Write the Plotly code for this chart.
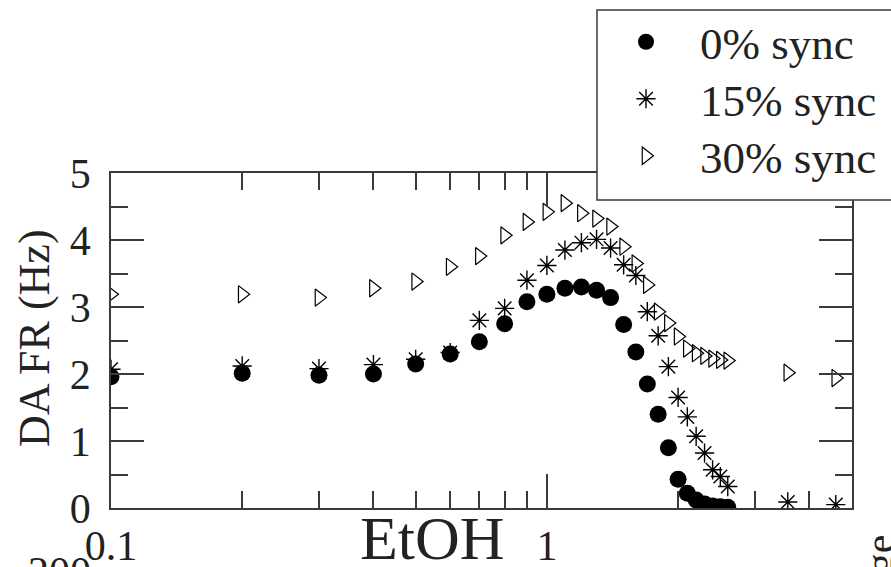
import plotly.graph_objects as go

# ---- data ----
etoh = [0.1, 0.2, 0.3, 0.4, 0.5, 0.6, 0.7, 0.8, 0.9, 1.0,
        1.1, 1.2, 1.3, 1.4, 1.5, 1.6, 1.7, 1.8, 1.9, 2.0,
        2.1, 2.2, 2.3, 2.4, 2.5, 2.6]
etoh_far = [3.57, 4.6]

sync0 = [1.96, 2.01, 1.98, 2.0, 2.15, 2.3, 2.48, 2.75, 3.08, 3.19,
         3.28, 3.3, 3.25, 3.14, 2.74, 2.33, 1.85, 1.4, 0.9, 0.43,
         0.22, 0.12, 0.06, 0.03, 0.02, 0.01]
sync15 = [2.07, 2.12, 2.08, 2.14, 2.22, 2.32, 2.8, 2.98, 3.4, 3.62,
          3.85, 3.96, 4.01, 3.88, 3.63, 3.47, 2.93, 2.57, 2.11, 1.65,
          1.36, 1.07, 0.82, 0.57, 0.47, 0.32]
sync15_far = [0.09, 0.05]
sync30 = [3.19, 3.19, 3.14, 3.28, 3.38, 3.6, 3.76, 4.07, 4.27, 4.42,
          4.55, 4.4, 4.32, 4.2, 3.9, 3.65, 3.33, 2.93, 2.76, 2.56,
          2.38, 2.31, 2.27, 2.23, 2.21, 2.2]
sync30_far = [2.02, 1.94]

series_names = ["0% sync", "15% sync", "30% sync"]
x_major = [0.1, 1]
x_major_text = ["0.1", "1"]
x_minor = [0.2, 0.3, 0.4, 0.5, 0.6, 0.7, 0.8, 0.9, 2, 3, 4]

FONT = "Liberation Serif, Times New Roman, serif"
INK = "#222222"
AX = "#3a3a3a"

W, H = 891, 567
L, R, T, B = 111, 39, 173, 59
pw, ph = W - L - R, H - T - B


def px(xp):
    return (xp - L) / pw


def py(yp):
    return (H - B - yp) / ph


fig = go.Figure()
fig.add_trace(go.Scatter(
    x=etoh, y=sync0, mode="markers", name=series_names[0], legend="legend",
    marker=dict(symbol="circle", size=17, color="black", line=dict(width=0))))
fig.add_trace(go.Scatter(
    x=etoh + etoh_far, y=sync15 + sync15_far, mode="markers",
    name=series_names[1], legend="legend2",
    marker=dict(symbol="asterisk-open", size=16, color="black",
                line=dict(width=1.4, color="black"))))
fig.add_trace(go.Scatter(
    x=etoh + etoh_far, y=sync30 + sync30_far, mode="markers",
    name=series_names[2], legend="legend3",
    marker=dict(symbol="triangle-right-open", size=15, color="black",
                line=dict(width=1.2, color="black"))))
# invisible trace that carries the mirrored (top / right) tick axes
fig.add_trace(go.Scatter(
    x=etoh, y=sync0, xaxis="x2", yaxis="y2", mode="markers",
    marker=dict(opacity=0), showlegend=False, hoverinfo="skip"))

tick_common = dict(ticks="inside", tickwidth=1.5, tickcolor=AX,
                   showgrid=False, zeroline=False, automargin=False)


def leg(row_y):
    return dict(x=px(592), y=py(row_y), xanchor="left", yanchor="middle",
                bgcolor="rgba(0,0,0,0)", borderwidth=0,
                font=dict(family=FONT, size=45, color=INK), itemwidth=98)


fig.update_layout(
    width=W, height=H,
    margin=dict(l=L, r=R, t=T, b=B, autoexpand=False),
    paper_bgcolor="white", plot_bgcolor="white",
    font=dict(family=FONT, color=INK, size=40),
    showlegend=True,
    legend=leg(42), legend2=leg(99), legend3=leg(156),
    xaxis=dict(
        type="log", range=[-1, 0.7],
        showline=True, linecolor=AX, linewidth=1.5, mirror=True,
        ticklen=34, tickmode="array", tickvals=x_major, ticktext=x_major_text,
        tickfont=dict(family=FONT, size=42, color=INK),
        minor=dict(ticks="inside", ticklen=17, tickwidth=1.5, tickcolor=AX,
                   tickmode="array", tickvals=x_minor, showgrid=False),
        **tick_common,
    ),
    xaxis2=dict(
        type="log", range=[-1, 0.7], overlaying="x", side="top", anchor="y",
        showline=False, showticklabels=False,
        ticklen=34, tickmode="array", tickvals=x_major,
        minor=dict(ticks="inside", ticklen=17, tickwidth=1.5, tickcolor=AX,
                   tickmode="array", tickvals=x_minor, showgrid=False),
        **tick_common,
    ),
    yaxis=dict(
        range=[0, 5],
        showline=True, linecolor=AX, linewidth=1.5, mirror=True,
        ticklen=33, tickmode="linear", tick0=0, dtick=1,
        tickfont=dict(family=FONT, size=42, color=INK),
        ticklabelstandoff=10,
        minor=dict(ticks="inside", ticklen=17, tickwidth=1.5, tickcolor=AX,
                   dtick=0.5, tick0=0, showgrid=False),
        **tick_common,
    ),
    yaxis2=dict(
        range=[0, 5], overlaying="y", side="right", anchor="x",
        showline=False, showticklabels=False,
        ticklen=33, tickmode="linear", tick0=0, dtick=1,
        minor=dict(ticks="inside", ticklen=17, tickwidth=1.5, tickcolor=AX,
                   dtick=0.5, tick0=0, showgrid=False),
        **tick_common,
    ),
    shapes=[
        dict(type="rect", xref="paper", yref="paper",
             x0=px(597), x1=px(905), y0=py(200), y1=py(10),
             line=dict(color=AX, width=1.5), fillcolor="white", layer="above"),
    ],
    annotations=[
        dict(text="EtOH", x=px(432), y=py(538), xref="paper", yref="paper",
             xanchor="center", yanchor="middle", showarrow=False,
             font=dict(family=FONT, size=62, color=INK)),
        dict(text="DA FR (Hz)", x=px(34), y=py(338), xref="paper", yref="paper",
             xanchor="center", yanchor="middle", showarrow=False, textangle=-90,
             font=dict(family=FONT, size=44, color=INK)),
        dict(text="200", x=px(59), y=py(547), xref="paper", yref="paper",
             xanchor="center", yanchor="top", showarrow=False,
             font=dict(family=FONT, size=42, color=INK)),
        dict(text="age", x=px(855), y=py(533), xref="paper", yref="paper",
             xanchor="left", yanchor="top", showarrow=False, textangle=-90,
             font=dict(family=FONT, size=42, color=INK)),
    ],
)

fig.write_html("out.html")
